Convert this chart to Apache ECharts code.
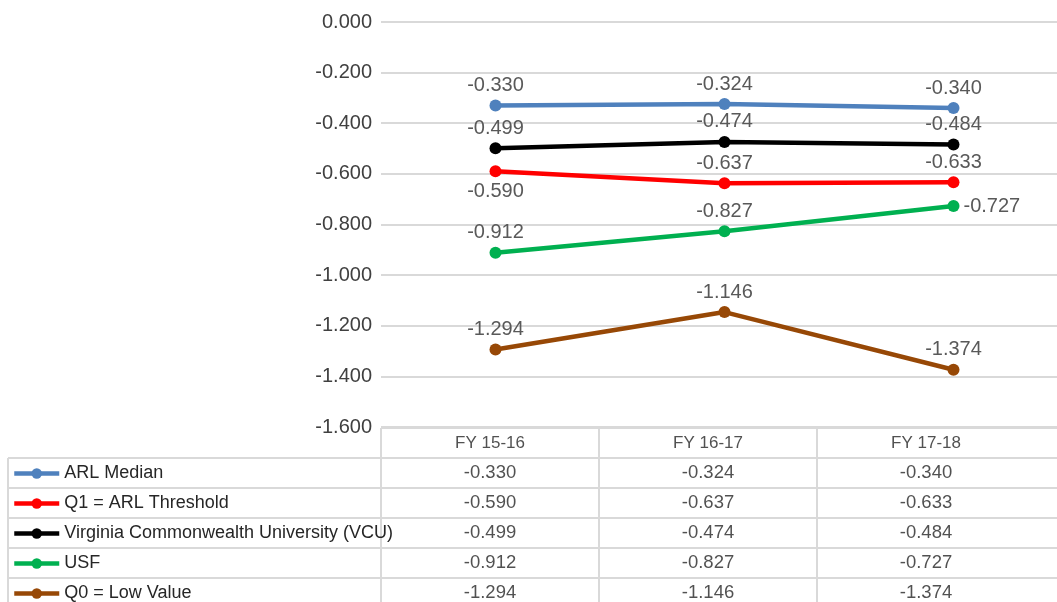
<!DOCTYPE html>
<html>
<head>
<meta charset="utf-8">
<script src="https://cdn.jsdelivr.net/npm/echarts@6/dist/echarts.min.js"></script>
<style>
  html, body { margin: 0; padding: 0; background: #fff; }
  #chart { width: 1057px; height: 602px; }
</style>
</head>
<body>
<div id="chart"></div>
<script>
const categories = ['FY 15-16', 'FY 16-17', 'FY 17-18']
const seriesNames = ['ARL Median', 'Q1 = ARL Threshold', 'Virginia Commonwealth University (VCU)', 'USF', 'Q0 = Low Value']
const arlMedian = [-0.330, -0.324, -0.340]
const q1Threshold = [-0.590, -0.637, -0.633]
const vcu = [-0.499, -0.474, -0.484]
const usf = [-0.912, -0.827, -0.727]
const q0Low = [-1.294, -1.146, -1.374]
const yTicks = { min: -1.6, max: 0, interval: 0.2 }

const seriesValues = [arlMedian, q1Threshold, vcu, usf, q0Low]
const colors = ['#4f81bd', '#ff0000', '#000000', '#00b050', '#974806']
// where each point's data label sits (Excel placed some below / right)
const labelPos = [
  ['top', 'top', 'top'],
  ['bottom', 'top', 'top'],
  ['top', 'top', 'top'],
  ['top', 'top', 'right'],
  ['top', 'top', 'top']
]

const font = '"Liberation Sans", Arial, sans-serif'
const gridColor = '#d9d9d9'

const chart = echarts.init(document.getElementById('chart'))

const lineSeries = seriesNames.map((name, s) => ({
  name,
  type: 'line',
  xAxisIndex: 0,
  yAxisIndex: 0,
  data: seriesValues[s].map((v, i) => ({
    value: v,
    label: { position: labelPos[s][i] }
  })),
  symbol: 'circle',
  symbolSize: 12,
  lineStyle: { width: 4.5, color: colors[s] },
  itemStyle: { color: colors[s] },
  label: {
    show: true,
    distance: 4,
    fontFamily: font,
    fontSize: 20,
    color: '#595959',
    formatter: p => p.value.toFixed(3)
  },
  emphasis: { disabled: true },
  z: 10 - s
}))

// data table under the plot: header row + one row per series
const tableRows = ['header'].concat(seriesNames)
const tableData = []
categories.forEach((c, i) => {
  tableData.push({ value: [i, 0, c], label: { fontSize: 17 } })
  seriesValues.forEach((vals, s) => tableData.push([i, s + 1, vals[i].toFixed(3)]))
})

const tableTop = 428
const rowH = 30
const lines = []
for (let r = 1; r <= tableRows.length; r++) {
  lines.push({ type: 'line', shape: { x1: 8, y1: tableTop + r * rowH, x2: 1057, y2: tableTop + r * rowH } })
}
lines.push({ type: 'line', shape: { x1: 381, y1: tableTop, x2: 1057, y2: tableTop } })
lines.push({ type: 'line', shape: { x1: 8, y1: tableTop + rowH, x2: 8, y2: 602 } })
lines.forEach(l => { l.style = { stroke: gridColor, lineWidth: 2 }; l.silent = true })

const option = {
  backgroundColor: '#fff',
  animation: false,
  legend: {
    data: seriesNames,
    orient: 'vertical',
    left: 12,
    top: tableTop + rowH + 4,
    height: 200,
    padding: 0,
    itemWidth: 45,
    itemHeight: 13,
    itemGap: 7,
    lineStyle: { width: 4.5 },
    textStyle: { fontFamily: font, fontSize: 18, color: '#262626', lineHeight: 23 }
  },
  graphic: lines,
  grid: [
    { left: 381, top: 22, width: 687, height: 405, outerBoundsMode: 'none' },
    { left: 381, top: tableTop, width: 654, height: rowH * tableRows.length, outerBoundsMode: 'none' }
  ],
  xAxis: [
    {
      type: 'category',
      gridIndex: 0,
      data: categories,
      boundaryGap: true,
      axisLine: { show: false },
      axisTick: { show: false },
      axisLabel: { show: false }
    },
    {
      type: 'category',
      gridIndex: 1,
      data: categories,
      boundaryGap: true,
      axisLine: { show: false },
      axisTick: { show: false },
      axisLabel: { show: false },
      splitLine: { show: true, showMaxLine: false, lineStyle: { color: gridColor, width: 2 } }
    }
  ],
  yAxis: [
    {
      type: 'value',
      gridIndex: 0,
      min: yTicks.min,
      max: yTicks.max,
      interval: yTicks.interval,
      axisLine: { show: false },
      axisTick: { show: false },
      axisLabel: {
        margin: 9,
        fontFamily: font,
        fontSize: 20,
        color: '#404040',
        formatter: v => v.toFixed(3)
      },
      splitLine: { lineStyle: { color: gridColor, width: 2 } }
    },
    {
      type: 'category',
      gridIndex: 1,
      data: tableRows,
      inverse: true,
      boundaryGap: true,
      axisLine: { show: false },
      axisTick: { show: false },
      axisLabel: { show: false },
      splitLine: { show: false }
    }
  ],
  series: lineSeries.concat([{
    name: 'table',
    type: 'scatter',
    xAxisIndex: 1,
    yAxisIndex: 1,
    data: tableData,
    symbolSize: 0,
    silent: true,
    label: {
      show: true,
      position: 'inside',
      fontFamily: font,
      fontSize: 18.5,
      color: '#262626',
      formatter: p => p.value[2]
    }
  }])
}
chart.setOption(option)

window.addEventListener('resize', () => chart.resize())
</script>
</body>
</html>
